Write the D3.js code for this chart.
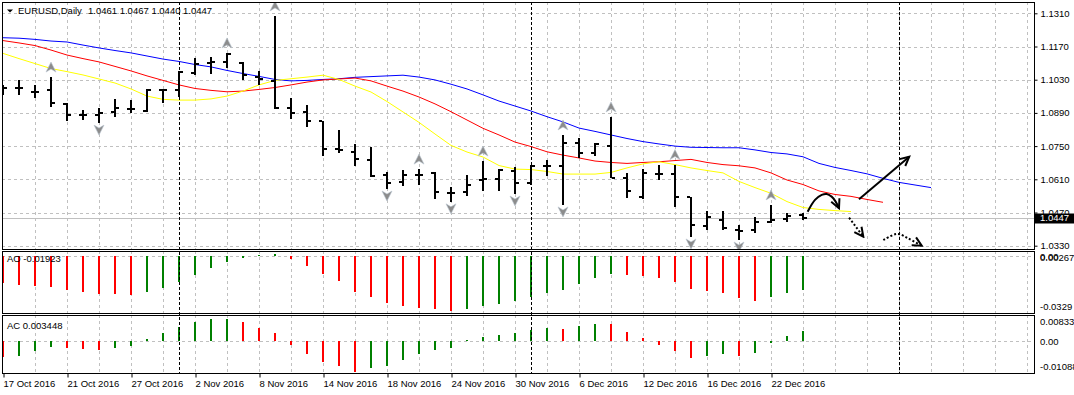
<!DOCTYPE html>
<html>
<head>
<meta charset="utf-8">
<script src="https://cdn.jsdelivr.net/npm/d3@7"></script>
<style>
  body { margin: 0; background: #fff; }
  svg { display: block; }
  svg text { font-family: "Liberation Sans", Arial, sans-serif; font-size: 9.5px; fill: #000; }
</style>
</head>
<body>
<div id="chart"></div>
<script>
// --- data ---
const symbol = "EURUSD";
const timeframe = "Daily";

const opens  = [1.0993,1.0993,1.0978,1.0987,1.0928,1.0881,1.0881,1.0894,1.0906,1.0898,
                1.0987,1.0987,1.1058,1.1100,1.1105,1.1100,1.1041,1.1025,1.0911,1.0894,
                1.0856,1.0738,1.0725,1.0691,1.0628,1.0599,1.0628,1.0637,1.0553,1.0557,
                1.0607,1.0611,1.0645,1.0594,1.0666,1.0666,1.0763,1.0721,1.0750,1.0616,
                1.0536,1.0632,1.0632,1.0536,1.0413,1.0439,1.0396,1.0396,1.0430,1.0443,
                1.0461];
const highs  = [1.1008,1.1029,1.1008,1.1041,1.0932,1.0902,1.0911,1.0949,1.0944,1.0991,
                1.0991,1.1067,1.1122,1.1126,1.1143,1.1105,1.1067,1.1299,1.0953,1.0923,
                1.0856,1.0818,1.0759,1.0746,1.0641,1.0649,1.0653,1.0641,1.0578,1.0628,
                1.0687,1.0653,1.0662,1.0670,1.0691,1.0797,1.0784,1.0763,1.0873,1.0637,
                1.0653,1.0670,1.0672,1.0536,1.0476,1.0476,1.0418,1.0451,1.0502,1.0468,
                1.0467];
const lows   = [1.0966,1.0966,1.0953,1.0915,1.0856,1.0860,1.0847,1.0873,1.0890,1.0894,
                1.0932,1.0957,1.1050,1.1054,1.1079,1.1029,1.1008,1.0906,1.0864,1.0831,
                1.0708,1.0721,1.0666,1.0620,1.0569,1.0582,1.0586,1.0527,1.0515,1.0540,
                1.0561,1.0561,1.0548,1.0586,1.0624,1.0502,1.0700,1.0708,1.0616,1.0532,
                1.0527,1.0607,1.0493,1.0367,1.0396,1.0396,1.0354,1.0384,1.0426,1.0430,
                1.0440];
const closes = [1.0995,1.0995,1.0979,1.0932,1.0881,1.0880,1.0890,1.0911,1.0908,1.0987,
                1.0985,1.1062,1.1096,1.1105,1.1140,1.1050,1.1033,1.0911,1.0890,1.0856,
                1.0738,1.0732,1.0696,1.0624,1.0594,1.0628,1.0630,1.0557,1.0553,1.0586,
                1.0611,1.0649,1.0594,1.0666,1.0668,1.0763,1.0721,1.0759,1.0616,1.0561,
                1.0637,1.0634,1.0536,1.0418,1.0451,1.0405,1.0392,1.0430,1.0439,1.0455,
                1.0447];

// alligator lines (shifted forward past the last bar)
const jaw   = [1.1207,1.1205,1.1200,1.1193,1.1189,1.1176,1.1164,1.1153,1.1143,1.1130,
               1.1117,1.1107,1.1094,1.1084,1.1069,1.1056,1.1044,1.1031,1.1025,1.1027,
               1.1031,1.1034,1.1040,1.1043,1.1046,1.1049,1.1041,1.1029,1.1011,1.0991,
               1.0966,1.0940,1.0919,1.0898,1.0874,1.0852,1.0826,1.0812,1.0797,1.0782,
               1.0769,1.0759,1.0750,1.0745,1.0744,1.0743,1.0743,1.0734,1.0723,1.0717,
               1.0705,1.0677,1.0660,1.0647,1.0633,1.0614,1.0597,1.0586,1.0575];
const teeth = [1.1195,1.1185,1.1174,1.1155,1.1134,1.1119,1.1105,1.1086,1.1067,1.1046,
               1.1027,1.1008,1.0993,1.0985,1.0979,1.0982,1.0989,1.0997,1.1008,1.1020,
               1.1029,1.1033,1.1037,1.1025,1.1003,1.0982,1.0957,1.0928,1.0895,1.0860,
               1.0825,1.0797,1.0767,1.0748,1.0726,1.0712,1.0700,1.0687,1.0681,1.0677,
               1.0681,1.0684,1.0689,1.0694,1.0681,1.0672,1.0667,1.0658,1.0637,1.0607,
               1.0588,1.0561,1.0546,1.0538,1.0525,1.0513];
const lips  = [1.1141,1.1119,1.1098,1.1077,1.1064,1.1050,1.1033,1.1016,1.0991,1.0961,
               1.0947,1.0944,1.0944,1.0949,1.0961,1.0982,1.1008,1.1027,1.1034,1.1041,
               1.1049,1.1031,1.1003,1.0978,1.0938,1.0894,1.0850,1.0801,1.0753,1.0725,
               1.0704,1.0668,1.0653,1.0651,1.0643,1.0632,1.0632,1.0632,1.0639,1.0658,
               1.0675,1.0684,1.0672,1.0658,1.0647,1.0637,1.0601,1.0575,1.0551,1.0516,
               1.0491,1.0483,1.0478,1.0474];

const aoValues = [-0.0151,-0.0164,-0.0170,-0.0174,-0.0192,-0.0204,-0.0215,-0.0216,-0.0221,-0.0204,
                  -0.0179,-0.0145,-0.0106,-0.0066,-0.0034,-0.0010,0.0007,0.0011,-0.0019,-0.0055,
                  -0.0102,-0.0140,-0.0204,-0.0230,-0.0264,-0.0281,-0.0294,-0.0300,-0.0309,-0.0298,
                  -0.0281,-0.0270,-0.0255,-0.0230,-0.0208,-0.0191,-0.0157,-0.0123,-0.0100,-0.0106,
                  -0.0111,-0.0123,-0.0145,-0.0185,-0.0196,-0.0208,-0.0236,-0.0253,-0.0230,-0.0211,
                  -0.01923];
const acValues = [-0.0058,-0.0052,-0.0034,-0.0020,-0.0024,-0.0027,-0.0032,-0.0024,-0.0018,0.0007,
                  0.0028,0.0051,0.0067,0.0077,0.0078,0.0067,0.0047,0.0028,-0.0014,-0.0045,
                  -0.0074,-0.0088,-0.01088,-0.0095,-0.0088,-0.0066,-0.0045,-0.0031,-0.0024,0.0002,
                  0.0014,0.0020,0.0028,0.0039,0.0046,0.0043,0.0053,0.0060,0.0059,0.0032,
                  0.0011,-0.0014,-0.0035,-0.0059,-0.0052,-0.0045,-0.0052,-0.0041,-0.0008,0.0018,
                  0.003448];
const aoRange = [-0.0329, 0.00267];
const acRange = [-0.01088, 0.008338];

const fractalUp   = [3, 14, 17, 26, 30, 35, 38, 42, 48];
const fractalDown = [6, 24, 28, 32, 35, 43, 46];

const priceTicks = [1.1310, 1.1170, 1.1030, 1.0890, 1.0750, 1.0610, 1.0470, 1.0330];
const dateBars   = [0, 4, 8, 12, 16, 20, 24, 28, 32, 36, 40, 44, 48];
const dateLabels = ["17 Oct 2016", "21 Oct 2016", "27 Oct 2016", "2 Nov 2016", "8 Nov 2016",
                    "14 Nov 2016", "18 Nov 2016", "24 Nov 2016", "30 Nov 2016", "6 Dec 2016",
                    "12 Dec 2016", "16 Dec 2016", "22 Dec 2016"];
const separatorBars = [11, 33, 56];

// hand drawn arrows: [bar, price]
const curveArrow    = [[50.29,1.0473],[50.75,1.0523],[51.17,1.0544],[51.48,1.0548],[51.79,1.0537],[52.04,1.0516],[52.25,1.0488]];
const straightArrow = [[53.5,1.0526],[56.64,1.0705]];
const dotArrow      = [[52.88,1.0448],[53.77,1.0368]];
const dotCurveArrow = [[55.02,1.0354],[55.75,1.0378],[56.06,1.0378],[56.58,1.0361],[57.42,1.0330]];

// --- layout ---
const W = 1074, H = 395;
const left = 2, right = 1034;
const mainPane = {top: 2, bottom: 249};
const aoPane = {top: 251, bottom: 313};
const acPane = {top: 315, bottom: 373};
const last = closes.length - 1;

const x = d3.scaleLinear().domain([0, 64]).range([3, 1027]);
const y = d3.scaleLinear().domain([1.0330, 1.1310]).range([245.7, 13.3]);
const yAO = d3.scaleLinear().domain(aoRange).range([314.2, 251.3]);
const yAC = d3.scaleLinear().domain(acRange).range([371.7, 317.5]);

const gridBars = d3.range(2, 65, 2);

let svg = d3.select("#chart")
            .append("svg")
                .attr("width", W)
                .attr("height", H);
const defs = svg.append("defs");

defs.append("marker")
    .attr("id", "head")
    .attr("viewBox", "-11 -6 13 12")
    .attr("refX", 0).attr("refY", 0)
    .attr("markerWidth", 13).attr("markerHeight", 12)
    .attr("markerUnits", "userSpaceOnUse")
    .attr("orient", "auto")
  .append("path")
    .attr("d", "M-9,-4.5 L0,0 L-9,4.5")
    .attr("fill", "none")
    .attr("stroke", "#000")
    .attr("stroke-width", 2);

// pane with clip + grid
function addPane(name, p, hLines, yScale) {
    defs.append("clipPath").attr("id", "clip-" + name)
        .append("rect")
            .attr("x", left).attr("y", p.top)
            .attr("width", right - left).attr("height", p.bottom - p.top);
    const g = svg.append("g").attr("clip-path", "url(#clip-" + name + ")");

    g.selectAll(".vgrid")
        .data(gridBars)
        .enter()
        .append("line")
            .attr("x1", d => x(d) + 0.5).attr("x2", d => x(d) + 0.5)
            .attr("y1", p.top).attr("y2", p.bottom)
            .attr("stroke", "#c0c0c0")
            .attr("stroke-dasharray", "3,3");

    g.selectAll(".hgrid")
        .data(hLines)
        .enter()
        .append("line")
            .attr("x1", left).attr("x2", right)
            .attr("y1", d => Math.round(yScale(d)) + 0.5)
            .attr("y2", d => Math.round(yScale(d)) + 0.5)
            .attr("stroke", "#c0c0c0")
            .attr("stroke-dasharray", "3,3");
    return g;
}

const gMain = addPane("main", mainPane, priceTicks, y);
const gAO = addPane("ao", aoPane, [0], yAO);
const gAC = addPane("ac", acPane, [0], yAC);

// current price line
gMain.append("line")
    .attr("x1", left).attr("x2", right)
    .attr("y1", Math.round(y(closes[last])) + 0.5)
    .attr("y2", Math.round(y(closes[last])) + 0.5)
    .attr("stroke", "#c0c0c0");

// Alligator lines
const maLine = d3.line()
    .x((d, i) => x(i))
    .y(d => y(d));

[[jaw, "#0000ff"], [teeth, "#ff0000"], [lips, "#ffff00"]].forEach(([vals, color]) => {
    gMain.append("path")
        .datum(vals)
        .attr("d", maLine)
        .attr("fill", "none")
        .attr("stroke", color)
        .attr("stroke-width", 1);
});

// OHLC bars
const bars = gMain.selectAll(".bar")
    .data(d3.range(closes.length))
    .enter()
    .append("g");

bars.append("rect")
    .attr("x", i => x(i) - 1)
    .attr("y", i => Math.round(y(highs[i])))
    .attr("width", 2)
    .attr("height", i => Math.max(2, Math.round(y(lows[i])) - Math.round(y(highs[i]))))
    .attr("fill", "#000");
bars.append("rect")
    .attr("x", i => x(i) - 4)
    .attr("y", i => Math.round(y(opens[i])) - 1)
    .attr("width", 3).attr("height", 2)
    .attr("fill", "#000");
bars.append("rect")
    .attr("x", i => x(i) + 1)
    .attr("y", i => Math.round(y(closes[i])) - 1)
    .attr("width", 3).attr("height", 2)
    .attr("fill", "#000");

// fractals
gMain.selectAll(".fup")
    .data(fractalUp)
    .enter()
    .append("path")
        .attr("transform", i => "translate(" + x(i) + "," + (y(highs[i]) - 10) + ")")
        .attr("d", "M0,-5 L5,5 L0,2 L-5,5 Z")
        .attr("fill", "#8c8c8c")
        .attr("stroke", "#b8c4d0")
        .attr("stroke-width", 0.6);
gMain.selectAll(".fdn")
    .data(fractalDown)
    .enter()
    .append("path")
        .attr("transform", i => "translate(" + x(i) + "," + (y(lows[i]) + 7) + ")")
        .attr("d", "M0,5 L5,-5 L0,-2 L-5,-5 Z")
        .attr("fill", "#8c8c8c")
        .attr("stroke", "#b8c4d0")
        .attr("stroke-width", 0.6);

// drawn arrows
const arrowLine = d3.line()
    .x(d => x(d[0]))
    .y(d => y(d[1]))
    .curve(d3.curveCatmullRom.alpha(0.5));

[[curveArrow, null], [straightArrow, null], [dotArrow, "2,2"], [dotCurveArrow, "2,2"]].forEach(([pts, dash]) => {
    gMain.append("path")
        .datum(pts)
        .attr("d", arrowLine)
        .attr("fill", "none")
        .attr("stroke", "#000")
        .attr("stroke-width", 2)
        .attr("stroke-dasharray", dash)
        .attr("marker-end", "url(#head)");
});

// title
gMain.append("path")
    .attr("d", "M7,9.5 L13,9.5 L10,12.5 Z")
    .attr("fill", "#000");
gMain.append("text")
    .attr("x", 18).attr("y", 14)
    .text(symbol + "," + timeframe);
gMain.append("text")
    .attr("x", 88).attr("y", 14)
    .text([opens[last], highs[last], lows[last], closes[last]].map(v => v.toFixed(4)).join(" "));

// AO / AC histograms
function histogram(g, vals, yScale) {
    g.selectAll(".hist")
        .data(vals)
        .enter()
        .append("rect")
            .attr("x", (d, i) => x(i) - 1)
            .attr("y", d => Math.round(Math.min(yScale(0), yScale(d))))
            .attr("width", 2)
            .attr("height", d => Math.max(1, Math.round(Math.abs(yScale(d) - yScale(0)))))
            .attr("fill", (d, i) => (i > 0 && d > vals[i - 1]) ? "#008000" : "#ff0000");
}
histogram(gAO, aoValues, yAO);
histogram(gAC, acValues, yAC);

gAO.append("text")
    .attr("x", 7).attr("y", 262)
    .text("AO " + aoValues[last].toFixed(5));
gAC.append("text")
    .attr("x", 7).attr("y", 328.5)
    .text("AC " + acValues[last].toFixed(6));

// period separators
svg.selectAll(".sep")
    .data(separatorBars)
    .enter()
    .append("line")
        .attr("x1", d => x(d) + 0.5).attr("x2", d => x(d) + 0.5)
        .attr("y1", mainPane.top).attr("y2", acPane.bottom)
        .attr("stroke", "#000")
        .attr("stroke-dasharray", "3,2");

// pane frames
[mainPane, aoPane, acPane].forEach(p => {
    svg.append("rect")
        .attr("x", left + 0.5).attr("y", p.top + 0.5)
        .attr("width", right - left).attr("height", p.bottom - p.top)
        .attr("fill", "none")
        .attr("stroke", "#000");
});

// price axis
const priceAxis = svg.append("g")
    .attr("transform", "translate(" + (right + 0.5) + ",0)")
    .call(d3.axisRight(y)
            .tickValues(priceTicks)
            .tickFormat(d3.format(".4f"))
            .tickSize(3)
            .tickSizeOuter(0));
priceAxis.select(".domain").remove();
priceAxis.selectAll("text").attr("x", 6);

// current price label
const cy = y(closes[last]);
svg.append("rect")
    .attr("x", right + 1).attr("y", Math.round(cy) - 4.5)
    .attr("width", W - right - 1).attr("height", 10)
    .attr("fill", "#000");
svg.append("text")
    .attr("x", right + 6).attr("y", cy + 3.5)
    .style("fill", "#fff")
    .text(closes[last].toFixed(4));

// sub-pane scale labels
function paneLabels(p, range, yScale, topDigits, botDigits) {
    const lab = [
        [range[1].toFixed(topDigits), p.top + 10],
        ["0.00", yScale(0) + 3.5],
        [range[0].toFixed(botDigits), p.bottom - 3.5]
    ];
    svg.selectAll(null)
        .data(lab)
        .enter()
        .append("text")
            .attr("x", right + 6)
            .attr("y", d => d[1])
            .text(d => d[0]);
}
paneLabels(aoPane, aoRange, yAO, 5, 4);
paneLabels(acPane, acRange, yAC, 6, 5);

// date axis
const dateAxis = svg.append("g")
    .attr("transform", "translate(0," + (acPane.bottom + 0.5) + ")")
    .call(d3.axisBottom(x)
            .tickValues(dateBars)
            .tickFormat(d => dateLabels[dateBars.indexOf(d)])
            .tickSize(4)
            .tickSizeOuter(0));
dateAxis.select(".domain").remove();
dateAxis.selectAll(".tick line").attr("transform", "translate(0.5,0)");
dateAxis.selectAll("text").attr("text-anchor", "start").attr("y", 7);
svg.selectAll(".tick text")
    .style("font-family", "\"Liberation Sans\", Arial, sans-serif")
    .style("font-size", "9.5px");
</script>
</body>
</html>
